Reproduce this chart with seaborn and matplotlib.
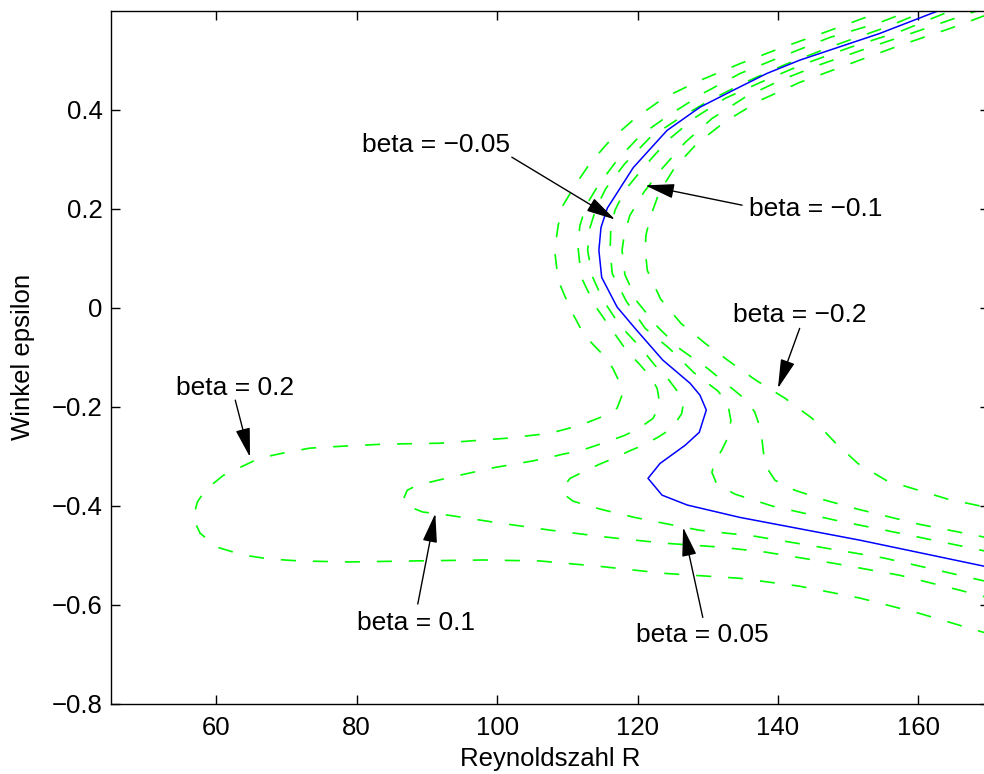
import matplotlib
matplotlib.use("Agg")
import matplotlib.pyplot as plt
import pandas as pd
import seaborn as sns

# neutral curves: Reynoldszahl R vs. Winkel epsilon, one per beta
r_beta0 = [165.9, 162.7, 154.5, 143.1, 138.4, 133.6, 128.9, 124.2, 119.4, 115.7, 114.8, 114.5, 114.9, 117.1,
           119.9, 123.6, 127.5, 128.9, 129.8, 128.8, 126.8, 123.2, 121.5, 123.5, 127.1, 134.6, 151.7, 170.2]
e_beta0 = [0.615, 0.599, 0.554, 0.500, 0.473, 0.439, 0.405, 0.358, 0.283, 0.201, 0.162, 0.116, 0.061, 0.001,
           -0.046, -0.106, -0.153, -0.177, -0.207, -0.252, -0.278, -0.315, -0.345, -0.379, -0.399, -0.424, -0.470, -0.525]

r_p02 = [156.7, 154.5, 147.4, 140.3, 134.6, 128.9, 123.9, 119.6, 116.1, 113.2, 111.1, 109.4, 108.7, 108.2,
         108.7, 110.5, 112.2, 113.5, 115.4, 116.5, 117.5, 117.8, 117.1, 115.4, 111.8, 107.5, 101.3, 91.9,
         83.7, 78.0, 73.3, 69.5, 66.2, 61.0, 58.4, 57.3, 56.7, 57.7, 60.1, 63.8, 67.6, 71.9, 79.0, 87.6,
         98.0, 106.1, 114.7, 123.8, 134.6, 143.1, 151.7, 160.2, 165.9, 170.2]
e_p02 = [0.611, 0.597, 0.560, 0.524, 0.493, 0.459, 0.425, 0.382, 0.338, 0.291, 0.247, 0.207, 0.166, 0.116,
         0.055, -0.005, -0.050, -0.072, -0.100, -0.123, -0.153, -0.177, -0.203, -0.218, -0.238, -0.254, -0.264, -0.274,
         -0.276, -0.280, -0.284, -0.294, -0.304, -0.339, -0.369, -0.393, -0.426, -0.456, -0.484, -0.500, -0.508, -0.512,
         -0.514, -0.512, -0.510, -0.512, -0.523, -0.537, -0.547, -0.563, -0.587, -0.618, -0.642, -0.660]

r_p01 = [161.0, 158.7, 154.5, 147.4, 140.3, 134.6, 129.6, 124.6, 120.4, 117.1, 114.4, 112.7, 111.8, 111.5,
         111.8, 112.2, 113.9, 116.4, 118.6, 120.2, 121.8, 122.8, 123.2, 122.2, 120.2, 118.2, 115.9, 113.8,
         111.7, 109.4, 107.1, 105.0, 99.7, 93.3, 88.6, 87.2, 86.6, 87.6, 89.4, 93.3, 99.7, 107.7, 115.7,
         123.8, 131.8, 138.2, 148.1, 157.4, 165.9, 170.2]
e_p01 = [0.613, 0.599, 0.576, 0.546, 0.506, 0.473, 0.435, 0.390, 0.348, 0.298, 0.247, 0.207, 0.166, 0.126,
         0.085, 0.055, 0.005, -0.046, -0.090, -0.113, -0.139, -0.163, -0.197, -0.224, -0.244, -0.258, -0.270, -0.280,
         -0.290, -0.296, -0.304, -0.310, -0.323, -0.343, -0.359, -0.369, -0.389, -0.403, -0.413, -0.420, -0.434,
         -0.450, -0.464, -0.476, -0.484, -0.494, -0.517, -0.541, -0.571, -0.587]

r_p005 = [163.1, 161.0, 155.3, 148.1, 141.0, 135.3, 130.3, 126.1, 121.8, 118.2, 115.5, 114.1, 113.2, 112.9,
          113.5, 115.1, 117.5, 120.4, 122.5, 124.3, 126.1, 126.5, 126.3, 124.9, 122.9, 120.8, 118.8, 116.7,
          114.5, 112.4, 110.4, 109.4, 109.7, 110.8, 113.1, 115.2, 119.6, 123.8, 128.9, 136.7, 146.0, 155.1,
          164.1, 170.2]
e_p005 = [0.613, 0.599, 0.566, 0.530, 0.491, 0.455, 0.419, 0.384, 0.344, 0.291, 0.241, 0.201, 0.160, 0.116,
          0.065, 0.015, -0.036, -0.080, -0.117, -0.143, -0.177, -0.197, -0.214, -0.244, -0.262, -0.278, -0.290, -0.304,
          -0.317, -0.331, -0.345, -0.363, -0.379, -0.391, -0.401, -0.409, -0.424, -0.436, -0.450, -0.462, -0.484,
          -0.506, -0.535, -0.555]

r_m005 = [168.1, 164.5, 157.4, 150.3, 143.1, 137.5, 132.5, 128.2, 124.3, 121.1, 118.2, 116.8, 116.2, 116.1,
          116.4, 118.4, 121.1, 124.5, 128.0, 131.5, 132.9, 133.3, 132.9, 132.0, 131.0, 130.6, 131.3, 133.9,
          139.2, 148.3, 157.4, 166.2, 170.2]
e_m005 = [0.613, 0.599, 0.558, 0.526, 0.489, 0.455, 0.423, 0.384, 0.338, 0.287, 0.237, 0.197, 0.160, 0.116,
          0.069, 0.013, -0.042, -0.082, -0.131, -0.169, -0.197, -0.228, -0.262, -0.288, -0.312, -0.333, -0.357,
          -0.377, -0.401, -0.430, -0.456, -0.482, -0.494]

r_m01 = [170.9, 166.7, 160.2, 153.1, 146.0, 140.3, 135.3, 130.6, 126.8, 123.5, 120.9, 118.9, 118.1, 117.8,
         118.2, 119.9, 122.8, 126.1, 130.0, 133.6, 135.5, 136.7, 137.6, 137.9, 138.2, 139.6, 142.4, 146.7,
         151.3, 160.2, 170.2]
e_m01 = [0.611, 0.592, 0.560, 0.526, 0.491, 0.459, 0.425, 0.382, 0.334, 0.281, 0.233, 0.186, 0.146, 0.116,
         0.067, 0.013, -0.038, -0.084, -0.123, -0.165, -0.187, -0.211, -0.248, -0.288, -0.319, -0.349, -0.369,
         -0.389, -0.407, -0.438, -0.466]

r_m02 = [170.2, 164.5, 157.4, 150.3, 143.1, 137.5, 132.5, 128.5, 125.3, 123.1, 121.8, 121.2, 121.1, 121.4,
         123.3, 126.2, 129.8, 133.5, 136.9, 141.0, 144.9, 148.1, 151.4, 155.4, 160.0, 164.2, 170.2]
e_m02 = [0.594, 0.564, 0.530, 0.493, 0.455, 0.419, 0.376, 0.332, 0.283, 0.233, 0.182, 0.146, 0.116, 0.075,
         0.017, -0.032, -0.074, -0.113, -0.147, -0.183, -0.224, -0.272, -0.315, -0.349, -0.369, -0.387, -0.405]

green_curves = [(r_p02, e_p02), (r_p01, e_p01), (r_p005, e_p005),
                (r_m005, e_m005), (r_m01, e_m01), (r_m02, e_m02)]

# labels with arrows (text baseline, arrow tail, arrow tip)
labels = ["beta = \u22120.05", "beta = \u22120.1", "beta = \u22120.2",
          "beta = 0.2", "beta = 0.1", "beta = 0.05"]
text_xy = [(91.3, 0.314), (145.4, 0.186), (143.1, -0.030),
           (62.7, -0.177), (88.4, -0.652), (129.3, -0.675)]
tail_xy = [(102.1, 0.304), (134.9, 0.207), (143.1, -0.042),
           (62.7, -0.187), (88.7, -0.599), (129.3, -0.626)]
tip_xy = [(116.8, 0.178), (121.1, 0.247), (140.0, -0.163),
          (64.8, -0.302), (91.2, -0.416), (126.5, -0.444)]

sns.set_style("white")
plt.rcParams['font.family'] = ['Liberation Sans', 'DejaVu Sans']
plt.rcParams['axes.unicode_minus'] = True
plt.rcParams['text.color'] = 'k'
plt.rcParams['axes.labelcolor'] = 'k'

fig = plt.figure(figsize=(9.84, 7.74), dpi=100)
ax = fig.add_axes([111 / 984, 70.5 / 774, 877.5 / 984, 692.8 / 774])

for r, e in green_curves:
    sns.lineplot(x=r, y=e, sort=False, estimator=None, color=(0, 1, 0), lw=1.2,
                 linestyle=(0, (9.0, 10.2)), ax=ax)
sns.lineplot(x=r_beta0, y=e_beta0, sort=False, estimator=None, color=(0, 0, 1), lw=1.1, ax=ax)

for lab, t, a, b in zip(labels, text_xy, tail_xy, tip_xy):
    ax.annotate("", xy=b, xytext=a,
                arrowprops=dict(arrowstyle="-|>,head_length=1.2,head_width=0.3",
                                color="k", lw=1.0, mutation_scale=15, shrinkA=0, shrinkB=0))
    ax.text(t[0], t[1], lab, ha="center", va="baseline", fontsize=19, color="k")

ax.set_xlim(45, 170)
ax.set_ylim(-0.8, 0.6)
ax.set_xticks([60, 80, 100, 120, 140, 160])
ax.set_yticks([-0.8, -0.6, -0.4, -0.2, 0, 0.2, 0.4])
ax.set_yticklabels(["\u22120.8", "\u22120.6", "\u22120.4", "\u22120.2", "0", "0.2", "0.4"])
ax.tick_params(direction="in", length=6.5, width=1, bottom=True, left=True, top=True, right=True,
               labelsize=18.5, colors="k")
ax.tick_params(axis="x", pad=9)
ax.tick_params(axis="y", pad=6)
for s in ax.spines.values():
    s.set_linewidth(1.0)
    s.set_color("k")

ax.set_xlabel("Reynoldszahl R", fontsize=18.5, color="k")
ax.set_ylabel("Winkel epsilon", fontsize=18.5, color="k")
ax.xaxis.set_label_coords(0.5, -0.0902)
ax.xaxis.label.set_verticalalignment("baseline")
ax.yaxis.set_label_coords(-0.0923, 0.5)
ax.yaxis.label.set_verticalalignment("baseline")

fig.savefig("out.png", dpi=100, facecolor="white")
